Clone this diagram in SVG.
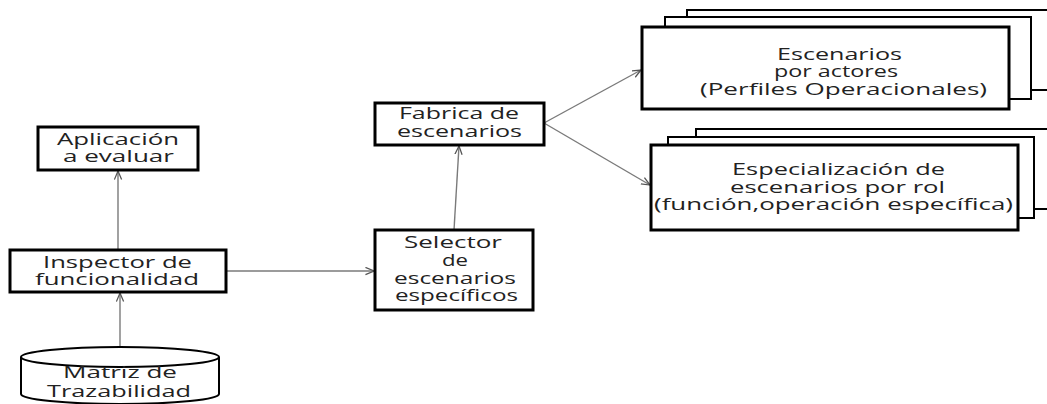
<svg xmlns="http://www.w3.org/2000/svg" width="1047" height="404" viewBox="0 0 1047 404">
  <defs>
    <style>
      .box { fill: #ffffff; stroke: #000000; stroke-width: 3; }
      .sbox { fill: #ffffff; stroke: #000000; stroke-width: 2; }
      .t { font-family: "Open Sans", "DejaVu Sans", sans-serif; font-size: 15.5px; fill: #222222; }
      .conn { stroke: #7a7a7a; stroke-width: 1.4; fill: none; marker-end: url(#arr); }
    </style>
    <marker id="arr" viewBox="0 0 10 10" refX="9.5" refY="5" markerWidth="9" markerHeight="9" markerUnits="userSpaceOnUse" orient="auto">
      <path d="M0,1 L9.5,5 L0,9" fill="none" stroke="#555555" stroke-width="1.4"/>
    </marker>
  </defs>
  <rect width="1047" height="404" fill="#ffffff"/>

  <g id="connectors">
    <line class="conn" x1="118" y1="250" x2="118" y2="171"/>
    <line class="conn" x1="120" y1="347" x2="120" y2="293"/>
    <line class="conn" x1="226" y1="271" x2="374" y2="271"/>
    <line class="conn" x1="454" y1="230" x2="459" y2="146"/>
    <line class="conn" x1="544" y1="123" x2="641" y2="70"/>
    <line class="conn" x1="544" y1="123" x2="650" y2="185"/>
  </g>

  <g id="aplicacion">
    <rect class="box" x="38" y="127" width="160" height="43"/>
    <text class="t" x="57" y="145" textLength="122" lengthAdjust="spacingAndGlyphs">Aplicación</text>
    <text class="t" x="63" y="162" textLength="111" lengthAdjust="spacingAndGlyphs">a evaluar</text>
  </g>

  <g id="inspector">
    <rect class="box" x="10" y="250" width="216" height="42"/>
    <text class="t" x="43" y="268" textLength="149" lengthAdjust="spacingAndGlyphs">Inspector de</text>
    <text class="t" x="35" y="285" textLength="164" lengthAdjust="spacingAndGlyphs">funcionalidad</text>
  </g>

  <g id="matriz">
    <path class="sbox" d="M21,357 L21,394 A99,10 0 0 0 219,394 L219,357"/>
    <ellipse class="sbox" cx="120" cy="357" rx="99" ry="10"/>
    <text class="t" x="63" y="378" textLength="114" lengthAdjust="spacingAndGlyphs">Matriz de</text>
    <text class="t" x="47" y="397" textLength="144" lengthAdjust="spacingAndGlyphs">Trazabilidad</text>
  </g>

  <g id="fabrica">
    <rect class="box" x="375" y="103" width="169" height="42"/>
    <text class="t" x="399" y="119" textLength="120" lengthAdjust="spacingAndGlyphs">Fabrica de</text>
    <text class="t" x="397" y="137" textLength="125" lengthAdjust="spacingAndGlyphs">escenarios</text>
  </g>

  <g id="selector">
    <rect class="box" x="375" y="230" width="158" height="80"/>
    <text class="t" x="404" y="248" textLength="98" lengthAdjust="spacingAndGlyphs">Selector</text>
    <text class="t" x="442" y="266" textLength="26" lengthAdjust="spacingAndGlyphs">de</text>
    <text class="t" x="394" y="284" textLength="122" lengthAdjust="spacingAndGlyphs">escenarios</text>
    <text class="t" x="395" y="301" textLength="123" lengthAdjust="spacingAndGlyphs">específicos</text>
  </g>

  <g id="escenarios-actores">
    <rect class="sbox" x="687" y="10" width="400" height="80"/>
    <rect class="sbox" x="665" y="17" width="366" height="82"/>
    <rect class="box" x="642" y="27" width="367" height="82"/>
    <text class="t" x="777" y="60" textLength="125" lengthAdjust="spacingAndGlyphs">Escenarios</text>
    <text class="t" x="774" y="77" textLength="124" lengthAdjust="spacingAndGlyphs">por actores</text>
    <text class="t" x="700" y="95" textLength="287" lengthAdjust="spacingAndGlyphs">(Perfiles Operacionales)</text>
  </g>

  <g id="especializacion">
    <rect class="sbox" x="696" y="129" width="400" height="80"/>
    <rect class="sbox" x="668" y="137" width="366" height="81"/>
    <rect class="box" x="651" y="145" width="367" height="85"/>
    <text class="t" x="732" y="175" textLength="213" lengthAdjust="spacingAndGlyphs">Especialización de</text>
    <text class="t" x="730" y="193" textLength="215" lengthAdjust="spacingAndGlyphs">escenarios por rol</text>
    <text class="t" x="654" y="210" textLength="359" lengthAdjust="spacingAndGlyphs">(función,operación específica)</text>
  </g>
</svg>
